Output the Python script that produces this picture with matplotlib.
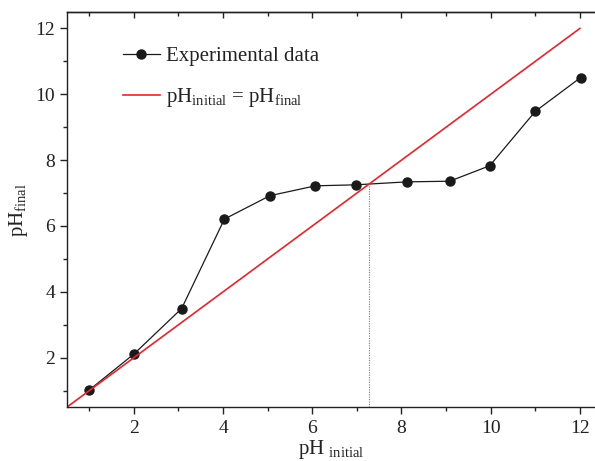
import matplotlib
matplotlib.use("Agg")
import matplotlib.pyplot as plt
from matplotlib.ticker import MultipleLocator

plt.rcParams['font.family'] = ['Liberation Serif', 'DejaVu Serif']
plt.rcParams['mathtext.fontset'] = 'custom'
plt.rcParams['mathtext.rm'] = 'Liberation Serif'
plt.rcParams['mathtext.it'] = 'Liberation Serif:italic'

# Drift-method measurements
ph_initial = [1.0, 2.0, 3.07, 4.03, 5.05, 6.07, 6.97, 8.12, 9.08, 9.98, 11.0, 12.02]
ph_final = [1.02, 2.11, 3.49, 6.21, 6.92, 7.22, 7.25, 7.34, 7.36, 7.83, 9.48, 10.51]
identity = [0.5, 12.0]
ph_pzc = 7.28

fig = plt.figure(figsize=(5.95, 4.61), dpi=100)
ax = fig.add_axes([0.1126, 0.117, 0.8874, 0.857])

ax.plot(ph_initial, ph_final, color='#1a1a1a', lw=0.9, marker='o', ms=6.5,
        label='Experimental data')
ax.plot(identity, identity, color='#e8252a', lw=1.2,
        label=r'pH$_{\mathrm{initial}}$ = pH$_{\mathrm{final}}$')
ax.plot([ph_pzc, ph_pzc], [0.5, ph_pzc], color='#777777', lw=0.8, ls=(0, (1, 1.2)))

ax.set_xlim(0.5, 12.34)
ax.set_ylim(0.5, 12.5)
ax.xaxis.set_major_locator(MultipleLocator(2))
ax.xaxis.set_minor_locator(MultipleLocator(1))
ax.yaxis.set_major_locator(MultipleLocator(2))
ax.yaxis.set_minor_locator(MultipleLocator(1))
ax.spines['right'].set_visible(False)
for s in ax.spines.values():
    s.set_linewidth(1.0)
    s.set_color('#222222')
ax.tick_params(axis='both', which='both', direction='out', color='#222222',
               labelsize=14, labelcolor='#222222')
ax.tick_params(which='major', length=5, width=1.0)
ax.tick_params(which='minor', length=3, width=1.0)
ax.tick_params(axis='x', which='major', pad=4)

# inward ticks along the top edge
top = ax.secondary_xaxis('top')
top.xaxis.set_major_locator(MultipleLocator(2))
top.xaxis.set_minor_locator(MultipleLocator(1))
top.tick_params(which='both', direction='in', labeltop=False, color='#222222', width=1.0)
top.tick_params(which='major', length=4)
top.tick_params(which='minor', length=3)
top.spines['top'].set_linewidth(1.0)
top.spines['top'].set_color('#222222')

ax.set_xlabel(r'pH $_{\mathrm{initial}}$', fontsize=15, color='#222222', labelpad=1)
ax.set_ylabel(r'pH$_{\mathrm{final}}$', fontsize=15, color='#222222', labelpad=4)

leg = ax.legend(loc='upper left', bbox_to_anchor=(0.07, 0.96), frameon=False,
                fontsize=15, handlelength=1.8, handletextpad=0.3, labelspacing=0.95,
                labelcolor='#222222')

fig.savefig('out.png', dpi=100)
